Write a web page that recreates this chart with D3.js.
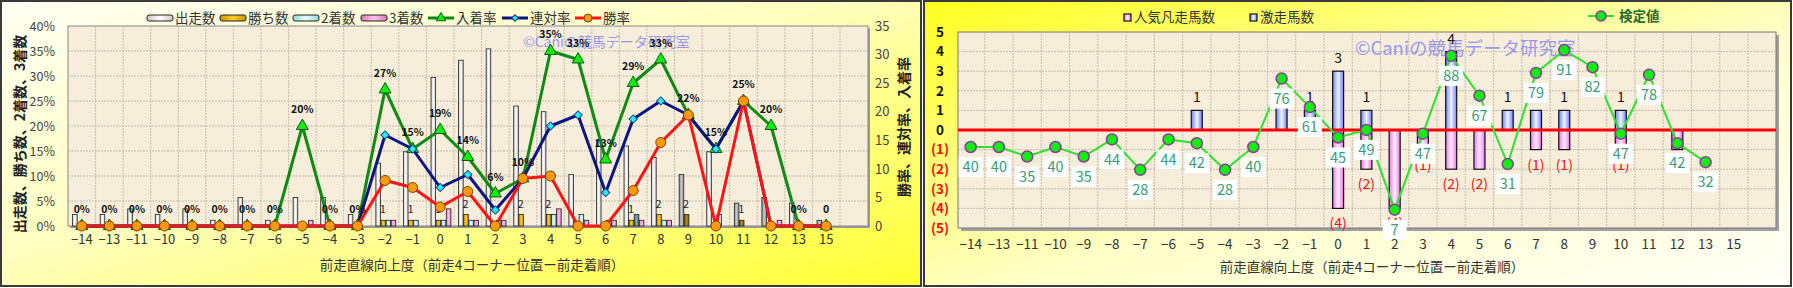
<!DOCTYPE html>
<html>
<head>
<meta charset="utf-8">
<title>前走直線向上度</title>
<script src="https://d3js.org/d3.v7.min.js"></script>
<style>
  body { margin: 0; background: #fff; }
  svg text { font-family: "Noto Sans CJK JP", "Noto Sans", sans-serif; }
</style>
</head>
<body>
<svg width="1793" height="288"></svg>
<script>
// ---- data ----
const cats = ["-14","-13","-11","-10","-9","-8","-7","-6","-5","-4","-3","-2","-1","0","1","2","3","4","5","6","7","8","9","10","11","12","13","15"];

// left chart: counts
const runs    = [2,2,3,2,3,1,5,1,5,5,2,11,13,26,29,31,21,20,9,15,14,12,9,13,4,5,4,1];
const wins    = [0,0,0,0,0,0,0,0,0,0,0,1,1,1,2,0,2,2,0,0,1,2,2,0,1,0,0,0];
const seconds = [0,0,0,0,0,0,0,0,0,0,0,1,1,1,1,1,0,2,2,1,2,1,0,2,0,0,0,0];
const thirds  = [0,0,0,0,0,0,0,0,1,0,0,1,0,3,1,1,0,3,1,1,1,1,0,0,0,1,0,0];
// left chart: rates (%)
const placeRate = [0,0,0,0,0,0,0,0,20,0,0,27.3,15.4,19.2,13.8,6.5,9.5,35,33.3,13.3,28.6,33.3,22.2,15.4,25,20,0,0];
const top2Rate  = [0,0,0,0,0,0,0,0,0,0,0,18.2,15.4,7.7,10.3,3.2,9.5,20,22.2,6.7,21.4,25,22.2,15.4,25,0,0,0];
const winRate   = [0,0,0,0,0,0,0,0,0,0,0,9.1,7.7,3.8,6.9,0,9.5,10,0,0,7.1,16.7,22.2,0,25,0,0,0];
const placeLabels = ["0%","0%","0%","0%","0%","0%","0%","0%","20%","0%","0%","27%","15%","19%","14%","6%","10%","35%","33%","13%","29%","33%","22%","15%","25%","20%","0%","0"];
const winLabels   = ["","","","","","","","","","","","1","1","1","2","","2","2","","","1","2","2","","1","","",""];
const greyRuns = ["9","11","12","15"];
const darkWins = ["9","11"];
const darkSeconds = ["7"];
const leftTicks = [0,5,10,15,20,25,30,35,40];
const rightTicks = [0,5,10,15,20,25,30,35];

// right chart
const upCount   = [0,0,0,0,0,0,0,0,1,0,0,2,1,3,1,0,0,4,0,1,1,1,0,1,0,0,0,0];   // 激走馬数
const downCount = [0,0,0,0,0,0,0,0,0,0,0,0,0,4,2,4,1,2,2,0,1,1,0,1,0,1,0,0];   // 人気凡走馬数
const testVal   = [40,40,35,40,35,44,28,44,42,28,40,76,61,45,49,7,47,88,67,31,79,91,82,47,78,42,32,null];
const rTicks = [-5,-4,-3,-2,-1,0,1,2,3,4,5];

const xTitle = "前走直線向上度（前走4コーナー位置ー前走着順）";
const mark = "©Caniの競馬データ研究室";
const fmtCat = c => c.replace("-", "\u2212");

const svg = d3.select("svg");
const defs = svg.append("defs");

function hGrad(id, edge, mid) {
  const g = defs.append("linearGradient").attr("id", id).attr("x1", 0).attr("x2", 1).attr("y1", 0).attr("y2", 0);
  g.append("stop").attr("offset", "0%").attr("stop-color", edge);
  g.append("stop").attr("offset", "50%").attr("stop-color", mid);
  g.append("stop").attr("offset", "100%").attr("stop-color", edge);
}
hGrad("gRun", "#c4c4c4", "#ffffff");
hGrad("gRunG", "#8e8e8e", "#c8c8c8");
hGrad("gWin", "#c99400", "#ffcc20");
hGrad("gWinD", "#7a6000", "#b08c10");
hGrad("gSec", "#90d8d8", "#e6ffff");
hGrad("gSecD", "#4d7a7a", "#80abab");
hGrad("gThr", "#d878b8", "#ffc4ea");
hGrad("gUp", "#7080ff", "#f0f4ff");
hGrad("gDown", "#f070f0", "#fff0ff");

const lbg = defs.append("linearGradient").attr("id", "lbg").attr("x1", 0).attr("y1", 0).attr("x2", 1).attr("y2", 1);
lbg.append("stop").attr("offset", "0%").attr("stop-color", "#fffff4");
lbg.append("stop").attr("offset", "45%").attr("stop-color", "#ffffc0");
lbg.append("stop").attr("offset", "100%").attr("stop-color", "#ffff30");
const rbg = defs.append("linearGradient").attr("id", "rbg").attr("x1", 0).attr("y1", 0).attr("x2", 1).attr("y2", 1);
rbg.append("stop").attr("offset", "0%").attr("stop-color", "#ffff20");
rbg.append("stop").attr("offset", "55%").attr("stop-color", "#ffffc8");
rbg.append("stop").attr("offset", "100%").attr("stop-color", "#fffffa");

// panels
svg.append("rect").attr("x", 1).attr("y", 1).attr("width", 920).attr("height", 285)
  .attr("fill", "url(#lbg)").attr("stroke", "#3a3a3a").attr("stroke-width", 2);
svg.append("rect").attr("x", 924).attr("y", 1).attr("width", 867).attr("height", 285)
  .attr("fill", "url(#rbg)").attr("stroke", "#3a3a3a").attr("stroke-width", 2);

// ================= LEFT CHART =================
const L = { left: 68, right: 868, top: 26, bottom: 226 };
const x = d3.scaleBand().domain(cats).range([68, 840]);
const yPct = d3.scaleLinear().domain([0, 40]).range([L.bottom, L.top]);
const yCnt = d3.scaleLinear().domain([0, 35]).range([L.bottom, L.top]);
const bw = x.bandwidth();

const left = svg.append("g");
left.append("rect").attr("x", L.left + 2).attr("y", L.top + 2).attr("width", L.right - L.left).attr("height", L.bottom - L.top).attr("fill", "#9a9a9a");
left.append("rect").attr("x", L.left).attr("y", L.top).attr("width", L.right - L.left).attr("height", L.bottom - L.top)
  .attr("fill", "#f6eddb").attr("stroke", "#888").attr("stroke-width", 1);

// grid
left.append("g").selectAll("line").data(leftTicks.slice(1, -1)).join("line")
  .attr("x1", L.left).attr("x2", L.right).attr("y1", d => yPct(d)).attr("y2", d => yPct(d))
  .attr("stroke", "#b9b0a0").attr("stroke-dasharray", "2,1").attr("stroke-width", 0.8);
left.append("g").selectAll("line").data(d3.range(1, 29)).join("line")
  .attr("x1", i => x.range()[0] + i * bw).attr("x2", i => x.range()[0] + i * bw)
  .attr("y1", L.top).attr("y2", L.bottom)
  .attr("stroke", "#b9b0a0").attr("stroke-dasharray", "2,1").attr("stroke-width", 0.8);

// watermark
left.append("text").attr("x", 523).attr("y", 47).text(mark)
  .attr("fill", "#8f8ff0").attr("font-size", 14).attr("opacity", 0.9);

// bars
const bar = 4.6, gap = 0.5;
const barSeries = [
  { vals: runs, off: 0, fill: (c) => greyRuns.includes(c) ? "url(#gRunG)" : "url(#gRun)" },
  { vals: wins, off: 1, fill: (c) => darkWins.includes(c) ? "url(#gWinD)" : "url(#gWin)" },
  { vals: seconds, off: 2, fill: (c) => darkSeconds.includes(c) ? "url(#gSecD)" : "url(#gSec)" },
  { vals: thirds, off: 3, fill: () => "url(#gThr)" }
];
barSeries.forEach(s => {
  left.append("g").selectAll("rect").data(cats.map((c, i) => ({ c, v: s.vals[i] })).filter(d => d.v > 0)).join("rect")
    .attr("x", d => x(d.c) + bw / 2 - 9.2 + s.off * (bar + gap))
    .attr("y", d => yCnt(d.v))
    .attr("width", bar)
    .attr("height", d => yCnt(0) - yCnt(d.v))
    .attr("fill", d => s.fill(d.c)).attr("stroke", "#222").attr("stroke-width", 0.8);
});
// win count labels
left.append("g").selectAll("text").data(cats.map((c, i) => ({ c, v: wins[i], t: winLabels[i] })).filter(d => d.t)).join("text")
  .attr("x", d => x(d.c) + bw / 2 - 2.2).attr("y", d => yCnt(d.v) - 7)
  .attr("text-anchor", "middle").attr("font-size", 11).attr("fill", "#222").text(d => d.t);

// lines
const cx = c => x(c) + bw / 2;
function rateLine(vals, color) {
  left.append("path").datum(vals)
    .attr("d", d3.line().x((d, i) => cx(cats[i])).y(d => yPct(d)))
    .attr("fill", "none").attr("stroke", color).attr("stroke-width", 3).attr("stroke-linejoin", "round");
}
rateLine(placeRate, "#118a11");
left.append("g").selectAll("path").data(placeRate).join("path")
  .attr("transform", (d, i) => `translate(${cx(cats[i])},${yPct(d)})`)
  .attr("d", d3.symbol(d3.symbolTriangle, 62))
  .attr("fill", "#10f010").attr("stroke", "#0a5a0a").attr("stroke-width", 1);
rateLine(top2Rate, "#0c1680");
left.append("g").selectAll("path").data(top2Rate).join("path")
  .attr("transform", (d, i) => `translate(${cx(cats[i])},${yPct(d)}) rotate(45)`)
  .attr("d", d3.symbol(d3.symbolSquare, 34))
  .attr("fill", "#20f0f0").attr("stroke", "#1a3a80").attr("stroke-width", 1);
rateLine(winRate, "#ff1414");
left.append("g").selectAll("circle").data(winRate).join("circle")
  .attr("cx", (d, i) => cx(cats[i])).attr("cy", d => yPct(d)).attr("r", 5)
  .attr("fill", "#ff9a10").attr("stroke", "#7a4000").attr("stroke-width", 1);

// place rate labels
left.append("g").selectAll("text").data(placeRate).join("text")
  .attr("x", (d, i) => cx(cats[i])).attr("y", d => yPct(d) - 13)
  .attr("text-anchor", "middle").attr("font-size", 10.5).attr("font-weight", "bold")
  .attr("font-family", "DejaVu Sans").attr("fill", "#111").text((d, i) => placeLabels[i]);

// axes
const axL = left.append("g").attr("transform", `translate(${L.left - 10},0)`)
  .call(d3.axisLeft(yPct).tickValues(leftTicks).tickFormat(d => d + "%").tickSize(0));
axL.select(".domain").remove();
axL.selectAll("text").attr("font-size", 12.5).attr("fill", "#444").attr("font-family", "Liberation Sans, Arial");
const axR = left.append("g").attr("transform", `translate(${L.right + 4},0)`)
  .call(d3.axisRight(yCnt).tickValues(rightTicks).tickSize(0));
axR.select(".domain").remove();
axR.selectAll("text").attr("font-size", 13).attr("fill", "#444").attr("font-family", "Liberation Sans, Arial");
const axB = left.append("g").attr("transform", `translate(0,${L.bottom + 6})`)
  .call(d3.axisBottom(x).tickSize(0).tickFormat(fmtCat));
axB.select(".domain").remove();
axB.selectAll("text").attr("font-size", 13).attr("fill", "#333").attr("font-family", "Liberation Sans, Arial");

left.append("text").attr("transform", "translate(25,134) rotate(-90)").attr("text-anchor", "middle")
  .attr("font-size", 14).attr("font-weight", "bold").attr("fill", "#222").text("出走数、勝ち数、2着数、3着数");
left.append("text").attr("transform", "translate(909,127) rotate(-90)").attr("text-anchor", "middle")
  .attr("font-size", 14).attr("font-weight", "bold").attr("fill", "#222").text("勝率、連対率、入着率");
left.append("text").attr("x", 472).attr("y", 270).attr("text-anchor", "middle")
  .attr("font-size", 13.5).attr("fill", "#333").text(xTitle);

// legend
const lleg = [
  { t: "出走数", x: 147, kind: "bar", fill: "url(#gRun)" },
  { t: "勝ち数", x: 220, kind: "bar", fill: "url(#gWin)" },
  { t: "2着数", x: 293, kind: "bar", fill: "url(#gSec)" },
  { t: "3着数", x: 361, kind: "bar", fill: "url(#gThr)" },
  { t: "入着率", x: 428, kind: "tri", c: "#118a11" },
  { t: "連対率", x: 502, kind: "dia", c: "#0c1680" },
  { t: "勝率", x: 575, kind: "dot", c: "#ff1414" }
];
lleg.forEach(d => {
  const g = left.append("g").attr("transform", `translate(${d.x},18)`);
  if (d.kind === "bar") {
    g.append("rect").attr("x", 0).attr("y", -3).attr("width", 26).attr("height", 6).attr("rx", 2)
      .attr("fill", d.fill).attr("stroke", "#222").attr("stroke-width", 1);
  } else {
    g.append("line").attr("x1", 0).attr("x2", 26).attr("stroke", d.c).attr("stroke-width", 3);
    if (d.kind === "tri") g.append("path").attr("transform", "translate(13,0)").attr("d", d3.symbol(d3.symbolTriangle, 40)).attr("fill", "#10f010").attr("stroke", "#0a5a0a");
    if (d.kind === "dia") g.append("path").attr("transform", "translate(13,0) rotate(45)").attr("d", d3.symbol(d3.symbolSquare, 22)).attr("fill", "#20f0f0").attr("stroke", "#1a3a80");
    if (d.kind === "dot") g.append("circle").attr("cx", 13).attr("r", 4).attr("fill", "#ff9a10").attr("stroke", "#7a4000");
  }
  g.append("text").attr("x", 28).attr("y", 5).attr("font-size", 13.5).attr("fill", "#333").text(d.t);
});

// ================= RIGHT CHART =================
const R = { left: 958, right: 1776, top: 32, bottom: 228 };
const xr = d3.scaleBand().domain(cats).range([956.5, 1748]);
const yr = d3.scaleLinear().domain([-5, 5]).range([R.bottom, R.top]);
const yv = d3.scaleLinear().domain([0, 100]).range([223, 33]);
const bwr = xr.bandwidth();
const cxr = c => xr(c) + bwr / 2;

const right = svg.append("g");
right.append("rect").attr("x", R.left + 3).attr("y", R.top + 3).attr("width", R.right - R.left).attr("height", R.bottom - R.top).attr("fill", "#a0a0a0");
right.append("rect").attr("x", R.left).attr("y", R.top).attr("width", R.right - R.left).attr("height", R.bottom - R.top)
  .attr("fill", "#f6eddb").attr("stroke", "#777").attr("stroke-width", 1);
right.append("g").selectAll("line").data(rTicks.filter(d => d !== 5 && d !== -5)).join("line")
  .attr("x1", R.left).attr("x2", R.right).attr("y1", d => yr(d)).attr("y2", d => yr(d))
  .attr("stroke", "#b9b0a0").attr("stroke-dasharray", "2,1").attr("stroke-width", 0.8);
right.append("g").selectAll("line").data(d3.range(1, 29)).join("line")
  .attr("x1", i => xr.range()[0] + i * bwr).attr("x2", i => xr.range()[0] + i * bwr)
  .attr("y1", R.top).attr("y2", R.bottom)
  .attr("stroke", "#b9b0a0").attr("stroke-dasharray", "2,1").attr("stroke-width", 0.8);

right.append("text").attr("x", 1355).attr("y", 55).text(mark)
  .attr("fill", "#8f8ff0").attr("font-size", 18.5).attr("opacity", 0.9);

// bars up / down
right.append("g").selectAll("rect").data(cats.map((c, i) => ({ c, v: upCount[i] })).filter(d => d.v > 0)).join("rect")
  .attr("x", d => cxr(d.c) - 5.5).attr("y", d => yr(d.v)).attr("width", 11).attr("height", d => yr(0) - yr(d.v))
  .attr("fill", "url(#gUp)").attr("stroke", "#111").attr("stroke-width", 1.2);
right.append("g").selectAll("rect").data(cats.map((c, i) => ({ c, v: downCount[i] })).filter(d => d.v > 0)).join("rect")
  .attr("x", d => cxr(d.c) - 5.5).attr("y", yr(0)).attr("width", 11).attr("height", d => yr(-d.v) - yr(0))
  .attr("fill", "url(#gDown)").attr("stroke", "#111").attr("stroke-width", 1.2);
right.append("g").selectAll("text").data(cats.map((c, i) => ({ c, v: upCount[i] })).filter(d => d.v > 0)).join("text")
  .attr("x", d => cxr(d.c)).attr("y", d => yr(d.v) - 8).attr("text-anchor", "middle")
  .attr("font-size", 14).attr("font-family", "Liberation Sans, Arial").attr("fill", "#111").text(d => d.v);
right.append("g").selectAll("text").data(cats.map((c, i) => ({ c, v: downCount[i] })).filter(d => d.v > 0)).join("text")
  .attr("x", d => cxr(d.c)).attr("y", d => yr(-d.v) + 20).attr("text-anchor", "middle")
  .attr("font-size", 14).attr("fill", "#ee1010").text(d => "(" + d.v + ")");

// zero line
right.append("line").attr("x1", R.left).attr("x2", R.right).attr("y1", yr(0)).attr("y2", yr(0))
  .attr("stroke", "#ff0000").attr("stroke-width", 3);

// test value line
const tv = cats.map((c, i) => ({ c, v: testVal[i] })).filter(d => d.v !== null);
right.append("path").datum(tv)
  .attr("d", d3.line().x(d => cxr(d.c)).y(d => yv(d.v)))
  .attr("fill", "none").attr("stroke", "#30e030").attr("stroke-width", 2);
right.append("g").selectAll("circle").data(tv).join("circle")
  .attr("cx", d => cxr(d.c)).attr("cy", d => yv(d.v)).attr("r", 5.5)
  .attr("fill", "#10ee10").attr("stroke", "#8a3a9a").attr("stroke-width", 1.5);
const tl = right.append("g").selectAll("g").data(tv).join("g")
  .attr("transform", d => `translate(${cxr(d.c)},${yv(d.v) + 20})`);
tl.append("rect").attr("x", -12).attr("y", -10).attr("width", 24).attr("height", 20).attr("fill", "#fff");
tl.append("text").attr("text-anchor", "middle").attr("dy", "0.36em").attr("font-size", 14.5)
  .attr("font-family", "Liberation Sans, Arial").attr("fill", "#3a9a78").text(d => d.v);

// axes
const ayr = right.append("g").attr("transform", `translate(946,0)`)
  .call(d3.axisLeft(yr).tickValues(rTicks).tickSize(0).tickFormat(d => d < 0 ? "(" + (-d) + ")" : d));
ayr.select(".domain").remove();
ayr.selectAll("text").attr("text-anchor", "middle").attr("x", -6).attr("font-size", 13.5).attr("font-weight", "bold")
  .attr("font-family", "Liberation Sans, Arial").attr("fill", d => d < 0 ? "#ee1010" : "#111");
const axr = right.append("g").attr("transform", `translate(0,${R.bottom + 8})`)
  .call(d3.axisBottom(xr).tickSize(0).tickFormat(fmtCat));
axr.select(".domain").remove();
axr.selectAll("text").attr("font-size", 13.5).attr("fill", "#333").attr("font-family", "Liberation Sans, Arial");
right.append("text").attr("x", 1372).attr("y", 272).attr("text-anchor", "middle")
  .attr("font-size", 13.5).attr("fill", "#333").text(xTitle);

// legend
const rleg = right.append("g");
[{ t: "人気凡走馬数", x: 1124, f: "url(#gDown)" }, { t: "激走馬数", x: 1250, f: "url(#gUp)" }].forEach(d => {
  rleg.append("rect").attr("x", d.x).attr("y", 14).attr("width", 7).attr("height", 7)
    .attr("fill", d.f).attr("stroke", "#111").attr("stroke-width", 1.2);
  rleg.append("text").attr("x", d.x + 10).attr("y", 22).attr("font-size", 13.5).attr("fill", "#333").text(d.t);
});
rleg.append("line").attr("x1", 1588).attr("x2", 1614).attr("y1", 16).attr("y2", 16).attr("stroke", "#30e030").attr("stroke-width", 2);
rleg.append("circle").attr("cx", 1601).attr("cy", 16).attr("r", 5).attr("fill", "#10ee10").attr("stroke", "#8a3a9a").attr("stroke-width", 1.5);
rleg.append("text").attr("x", 1619).attr("y", 21).attr("font-size", 13.5).attr("font-weight", "bold").attr("fill", "#2a6a2a").text("検定値");
</script>
</body>
</html>
